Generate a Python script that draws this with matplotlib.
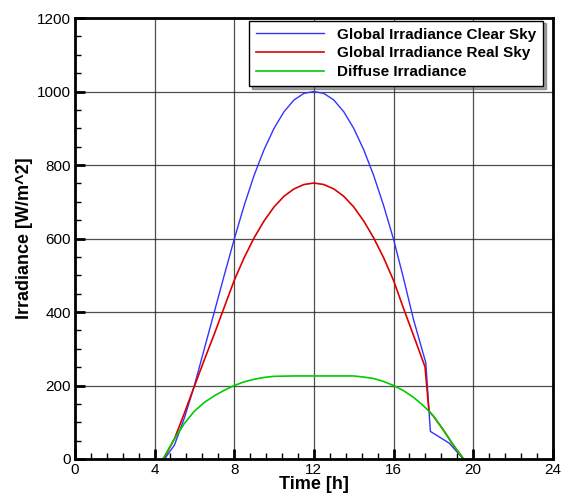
import matplotlib
matplotlib.use("Agg")
import matplotlib.pyplot as plt
from matplotlib.ticker import MultipleLocator

plt.rcParams['font.family'] = ['Liberation Sans', 'DejaVu Sans']

# Clear sky global irradiance
t_clear = [4.5, 5.0, 5.5, 6.0, 6.5, 7.0, 7.5, 8.0, 8.5, 9.0, 9.5, 10.0, 10.5,
           11.0, 11.5, 12.0, 12.5, 13.0, 13.5, 14.0, 14.5, 15.0, 15.5, 16.0,
           16.5, 17.0, 17.62, 17.85, 18.8, 19.5]
g_clear = [0, 38, 112, 200, 300, 400, 500, 598, 690, 772, 842, 900, 945,
           977, 995, 1000, 995, 977, 945, 900, 842, 772, 690, 598,
           492, 380, 262, 75, 43, 0]

# Real sky global irradiance
t_real = [4.45, 5.0, 5.5, 6.0, 6.5, 7.0, 7.5, 8.0, 8.5, 9.0, 9.5, 10.0, 10.5,
          11.0, 11.5, 12.0, 12.5, 13.0, 13.5, 14.0, 14.5, 15.0, 15.5, 16.0,
          16.5, 17.0, 17.58, 17.78, 18.0, 18.5, 19.0, 19.52]
g_real = [0, 55, 125, 198, 270, 340, 413, 486, 548, 602, 648, 686, 715,
          735, 747, 751, 747, 735, 715, 686, 648, 602, 548, 486,
          410, 337, 251, 130, 117, 79, 38, 0]

# Diffuse irradiance
t_diff = [4.42, 5.0, 5.5, 6.0, 6.5, 7.0, 7.5, 8.0, 8.5, 9.0, 9.5, 10.0, 11.0,
          12.0, 13.0, 14.0, 14.5, 15.0, 15.5, 16.0, 16.5, 17.0, 17.5, 17.78,
          18.0, 18.5, 19.0, 19.52]
g_diff = [0, 55, 97, 130, 154, 172, 187, 200, 210, 217, 222, 225, 226,
          226, 226, 226, 223, 219, 211, 200, 186, 168, 145, 130,
          117, 79, 38, 0]

fig = plt.figure(figsize=(5.63, 4.96), dpi=100)
ax = fig.add_axes([0.133, 0.0746, 0.849, 0.889])

ax.plot(t_clear, g_clear, color='#3333ff', lw=1.0, label='Global Irradiance Clear Sky')
ax.plot(t_real, g_real, color='#dd0000', lw=1.2, label='Global Irradiance Real Sky')
ax.plot(t_diff, g_diff, color='#00cc00', lw=1.2, label='Diffuse Irradiance')

ax.set_xlim(0, 24)
ax.set_ylim(0, 1200)
ax.xaxis.set_major_locator(MultipleLocator(4))
ax.xaxis.set_minor_locator(MultipleLocator(0.8))
ax.yaxis.set_major_locator(MultipleLocator(200))
ax.yaxis.set_minor_locator(MultipleLocator(50))
ax.tick_params(which='major', direction='in', length=7, width=2, labelsize=11,
               top=False, right=False, pad=3)
ax.tick_params(which='minor', direction='in', length=4, width=1,
               top=False, right=False)
ax.grid(True, which='major', color='#222222', lw=0.9, alpha=0.8)
for s in ax.spines.values():
    s.set_linewidth(2)

ax.set_xlabel('Time [h]', fontsize=13, fontweight='bold', labelpad=-1)
ax.set_ylabel('Irradiance [W/m^2]', fontsize=13, fontweight='bold', labelpad=3)

leg = ax.legend(loc='upper right', bbox_to_anchor=(0.979, 0.994), fancybox=False,
                shadow=True, edgecolor='black', framealpha=1, borderaxespad=0,
                prop={'weight': 'bold', 'size': 11}, handlelength=4.5,
                handletextpad=0.8, labelspacing=0.32, borderpad=0.45)
leg.get_frame().set_linewidth(1.0)

fig.savefig('out.png', dpi=100)
